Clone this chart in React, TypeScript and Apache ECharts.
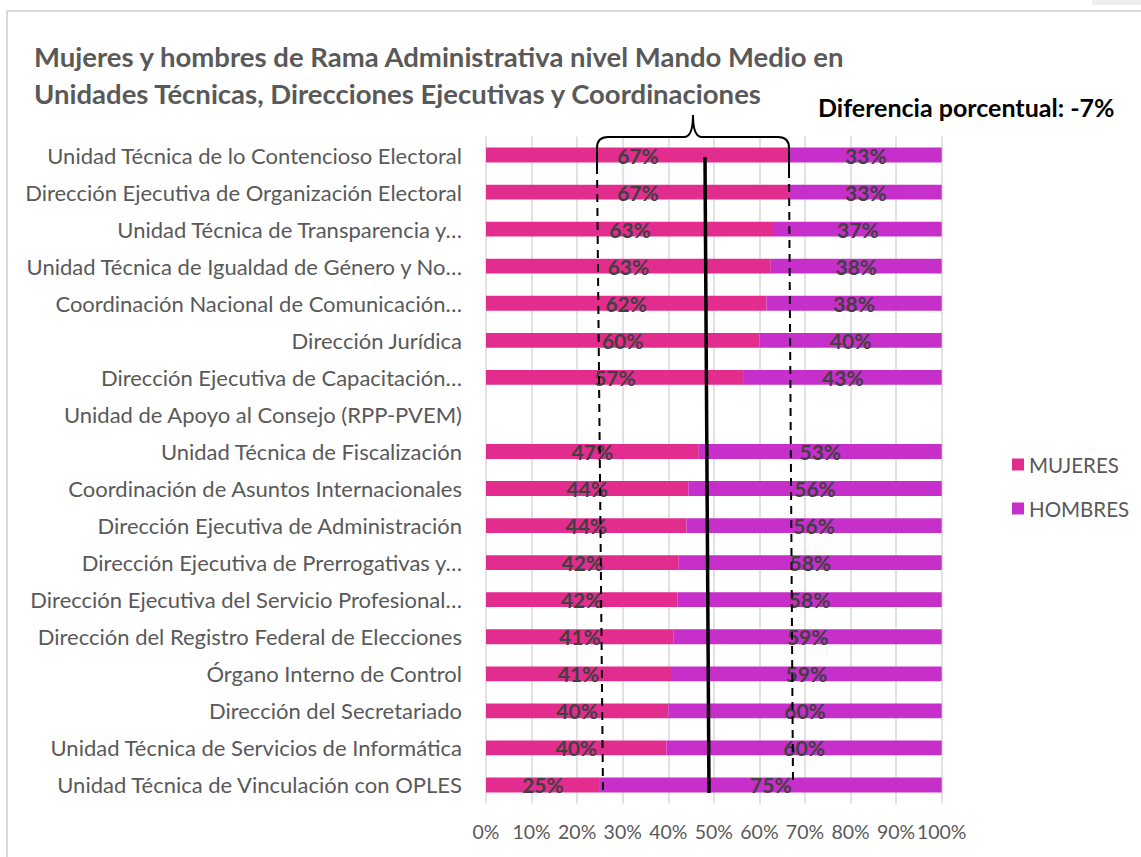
import React, { useEffect, useRef } from "react";
import * as echarts from "echarts";

const categories = [
  "Unidad Técnica de lo Contencioso Electoral",
  "Dirección Ejecutiva de Organización Electoral",
  "Unidad Técnica de Transparencia y…",
  "Unidad Técnica de Igualdad de Género y No…",
  "Coordinación Nacional de Comunicación…",
  "Dirección Jurídica",
  "Dirección Ejecutiva de Capacitación…",
  "Unidad de Apoyo al Consejo (RPP-PVEM)",
  "Unidad Técnica de Fiscalización",
  "Coordinación de Asuntos Internacionales",
  "Dirección Ejecutiva de Administración",
  "Dirección Ejecutiva de Prerrogativas y…",
  "Dirección Ejecutiva del Servicio Profesional…",
  "Dirección del Registro Federal de Elecciones",
  "Órgano Interno de Control",
  "Dirección del Secretariado",
  "Unidad Técnica de Servicios de Informática",
  "Unidad Técnica de Vinculación con OPLES",
];

const mujeres = [66.7, 66.7, 63.2, 62.5, 61.54, 60, 56.6, null, 46.7, 44.4, 44, 42.3, 42, 41.2, 40.6, 40, 39.6, 25];
const hombres = [33.3, 33.3, 36.8, 37.5, 38.46, 40, 43.4, null, 53.3, 55.6, 56, 57.7, 58, 58.8, 59.4, 60, 60.4, 75];

const seriesNames = ["MUJERES", "HOMBRES"];
const xTicks = { min: 0, max: 100, interval: 10 };
const titleLines = [
  "Mujeres y hombres de Rama Administrativa nivel Mando Medio en",
  "Unidades Técnicas, Direcciones Ejecutivas y Coordinaciones",
];
const noteText = "Diferencia porcentual: -7%";

const FONT = "Lato, 'Noto Sans', sans-serif";

export default function App() {
  const ref = useRef<HTMLDivElement>(null);
  useEffect(() => {
    if (!ref.current) return;
    const chart = echarts.init(ref.current, null, { renderer: "svg" });
    const braceD =
      "M597,166 L597,148 Q597,137 608,137 L684,137 Q693,137 693,115 Q693,137 702,137 L778,137 Q789,137 789,148 L789,170";
    echarts.graphic.registerShape("brace", echarts.graphic.extendPath(braceD, {}) as any);

    const label = {
      show: true,
      position: "inside",
      fontFamily: FONT,
      fontWeight: "bold",
      fontSize: 21,
      color: "#404040",
      formatter: (p: any) => (p.value == null ? "" : Math.round(p.value) + "%"),
    };

    chart.setOption({
      animation: false,
      backgroundColor: "#ffffff",
      title: [
        {
          text: titleLines.join("\n"),
          left: 29,
          top: 33,
          textStyle: {
            fontFamily: FONT,
            fontWeight: "bold",
            fontSize: 27.5,
            lineHeight: 37,
            color: "#595959",
          },
        },
        {
          text: noteText,
          left: 813,
          top: 89,
          textStyle: { fontFamily: FONT, fontWeight: "bold", fontSize: 25, color: "#000000" },
        },
      ],
      legend: {
        orient: "vertical",
        left: 1007,
        top: 449,
        itemWidth: 12,
        itemHeight: 12,
        itemGap: 23,
        icon: "rect",
        data: seriesNames,
        textStyle: { fontFamily: FONT, fontSize: 20.5, color: "#595959" },
      },
      grid: { left: 486, top: 136.5, width: 455.7, height: 667 },
      xAxis: {
        type: "value",
        min: xTicks.min,
        max: xTicks.max,
        interval: xTicks.interval,
        axisLine: { show: false },
        axisTick: { show: false },
        splitLine: { lineStyle: { color: "#d9d9d9", width: 1.5 } },
        axisLabel: {
          formatter: "{value}%",
          fontFamily: FONT,
          fontSize: 19.5,
          color: "#595959",
          margin: 18,
        },
      },
      yAxis: {
        type: "category",
        inverse: true,
        data: categories,
        axisLine: { show: false },
        axisTick: { show: false },
        axisLabel: { fontFamily: FONT, fontSize: 22, color: "#595959", margin: 24 },
      },
      series: [
        {
          name: seriesNames[0],
          type: "bar",
          stack: "total",
          barWidth: "40%",
          itemStyle: { color: "#E22D8E" },
          label,
          data: mujeres,
        },
        {
          name: seriesNames[1],
          type: "bar",
          stack: "total",
          barWidth: "40%",
          itemStyle: { color: "#C62FC9" },
          label,
          data: hombres,
        },
      ],
      graphic: [
        {
          type: "rect",
          z: -10,
          shape: { x: 7, y: 11, width: 1200, height: 900 },
          style: { fill: "none", stroke: "#d9d9d9", lineWidth: 2 },
          silent: true,
        },
        {
          type: "rect",
          shape: { x: 1092, y: 0, width: 60, height: 5 },
          style: { fill: "#eeeeee" },
          silent: true,
        },
        {
          type: "brace",
          x: 0,
          y: 0,
          z: 100,
          style: { fill: "none", stroke: "#000000", lineWidth: 2 },
          silent: true,
        },
        {
          type: "line",
          z: 100,
          shape: { x1: 705, y1: 157, x2: 709, y2: 793 },
          style: { stroke: "#000000", lineWidth: 3.5 },
          silent: true,
        },
        {
          type: "line",
          z: 100,
          shape: { x1: 597, y1: 166, x2: 603, y2: 792 },
          style: { stroke: "#000000", lineWidth: 2, lineDash: [8, 6] },
          silent: true,
        },
        {
          type: "line",
          z: 100,
          shape: { x1: 789, y1: 170, x2: 793, y2: 786 },
          style: { stroke: "#000000", lineWidth: 2, lineDash: [8, 6] },
          silent: true,
        },
      ],
    });
    return () => chart.dispose();
  }, []);
  return (
    <div
      ref={ref}
      style={{ position: "fixed", left: 0, top: 0, width: 1141, height: 857 }}
    />
  );
}
